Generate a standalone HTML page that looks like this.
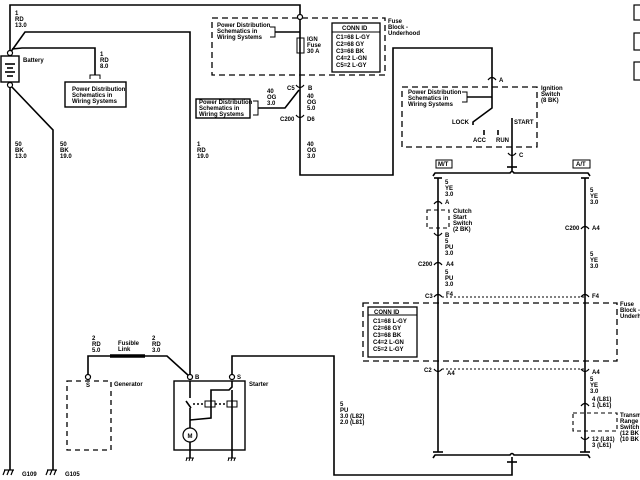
<!DOCTYPE html>
<html><head><style>
html,body{margin:0;padding:0;background:#fff}
svg{display:block}
text{font-family:"Liberation Sans",sans-serif;font-size:6px;font-weight:bold;fill:#000}
</style></head><body>
<svg width="640" height="480" viewBox="0 0 640 480" xmlns="http://www.w3.org/2000/svg">
<g fill="none" stroke="#000" stroke-width="1.6">
<!-- top wire -->
<polyline points="10,53 10,5 300,5 300,175 393,175 393,48 492,48 492,80"/>
<!-- battery -->
<rect x="1" y="56" width="18" height="26" stroke-width="1.4"/>
<line x1="5" y1="64" x2="15" y2="64"/><line x1="7" y1="68" x2="13" y2="68"/><line x1="5" y1="72" x2="15" y2="72"/><line x1="7" y1="76" x2="13" y2="76"/>
<polyline points="10,53 25,32 190,32 190,377"/>
<polyline points="12,49 22,48 95,48 95,75"/>
<polyline points="90,79 90,75 100,75 100,79" stroke-width="1"/>
<rect x="65" y="82" width="61" height="25" stroke-width="1.4"/>
<line x1="10" y1="85" x2="10" y2="470"/>
<polyline points="10,85 53,130 53,470"/>
<!-- fuse block top -->
<rect x="212" y="18" width="173" height="57" stroke-dasharray="6,4" stroke-width="1.3"/>
<rect x="297" y="38" width="7" height="15" stroke-width="1"/>
<rect x="332" y="23" width="48" height="49" stroke-width="1.3"/>
<line x1="332" y1="32" x2="380" y2="32" stroke-width="1"/>
<polyline points="270,27 275,27 275,37 270,37" stroke-width="1"/>
<line x1="275" y1="32" x2="300" y2="32"/>
<!-- C5 / C200 -->
<path d="M296,85 q4,5 8,0 M296,115 q4,5 8,0" stroke-width="1.2"/>
<polyline points="299,90 285,108 258,108"/>
<polyline points="253,101 258,101 258,115 253,115" stroke-width="1"/>
<rect x="196" y="99" width="54" height="19" stroke-width="1.4"/>
<!-- ignition switch -->
<path d="M488,80 q4,-5 8,0" stroke-width="1.2"/>
<rect x="402" y="87" width="135" height="60" stroke-dasharray="6,4" stroke-width="1.3"/>
<polyline points="462,92 467,92 467,102 462,102" stroke-width="1"/>
<line x1="467" y1="97" x2="492" y2="97"/>
<polyline points="492,80 492,108 473,122 473,125"/>
<line x1="484" y1="130" x2="484" y2="135"/><line x1="498" y1="130" x2="498" y2="135"/>
<line x1="512" y1="118" x2="512" y2="172"/>
<path d="M508,153 q4,5 8,0" stroke-width="1.2"/>
<line x1="507" y1="167" x2="517" y2="167"/>
<!-- bus -->
<path d="M433,176 l2,-3 L510,173 q2,-3 4,0 L588,173 l2,3"/>
<rect x="436" y="160" width="16" height="8" stroke-width="1"/>
<rect x="573" y="160" width="17" height="8" stroke-width="1"/>
<!-- left MT branch -->
<line x1="438" y1="178" x2="438" y2="452"/>
<line x1="434" y1="178" x2="442" y2="178"/>
<path d="M434,204 q4,-5 8,0 M434,233 q4,5 8,0 M434,265 q4,-5 8,0 M434,297 q4,-5 8,0 M434,369 q4,5 8,0" stroke-width="1.2"/>
<rect x="427" y="210" width="22" height="18" stroke-dasharray="4,3" stroke-width="1.1"/>
<line x1="433" y1="452" x2="443" y2="452"/>
<!-- right AT branch -->
<line x1="585" y1="178" x2="585" y2="452"/>
<line x1="581" y1="178" x2="589" y2="178"/>
<path d="M581,229 q4,-5 8,0 M581,297 q4,-5 8,0 M581,369 q4,5 8,0 M581,406 q4,-5 8,0 M581,437 q4,5 8,0" stroke-width="1.2"/>
<rect x="573" y="413" width="44" height="18" stroke-dasharray="4,3" stroke-width="1.1"/>
<line x1="580" y1="452" x2="590" y2="452"/>
<!-- fuse block lower -->
<line x1="442" y1="297" x2="585" y2="297" stroke-dasharray="2,2" stroke-width="1"/>
<line x1="442" y1="369" x2="585" y2="369" stroke-dasharray="2,2" stroke-width="1"/>
<rect x="363" y="303" width="254" height="58" stroke-dasharray="6,4" stroke-width="1.3"/>
<rect x="368" y="307" width="49" height="50" stroke-width="1.3"/>
<line x1="368" y1="315" x2="417" y2="315" stroke-width="1"/>
<!-- bottom bus -->
<path d="M433,458 l2,-3 L510,455 q2,-3 4,0 L588,455 l2,3"/>
<line x1="507" y1="462" x2="517" y2="462"/>
<polyline points="512,457 512,475 334,475 334,356 232,356 232,377"/>
<!-- generator -->
<rect x="67" y="381" width="44" height="69" stroke-dasharray="5,4" stroke-width="1.3"/>
<polyline points="88,377 88,356 110,356"/>
<line x1="110" y1="356" x2="145" y2="356" stroke-width="3.5"/>
<polyline points="145,356 167,356 189,376"/>
<!-- starter -->
<rect x="174" y="381" width="71" height="69" stroke-width="1.4"/>
<line x1="190" y1="381" x2="190" y2="398"/>
<line x1="186" y1="401" x2="191" y2="408"/>
<line x1="193" y1="404" x2="205" y2="404" stroke-dasharray="2,2"/>
<rect x="205" y="401" width="10" height="6" stroke-width="1"/>
<line x1="215" y1="404" x2="227" y2="404" stroke-dasharray="2,2"/>
<rect x="227" y="401" width="10" height="6" stroke-width="1"/>
<polyline points="232,381 232,387 229,390 211,390 211,418 190,420"/>
<line x1="232" y1="390" x2="232" y2="458"/>
<line x1="190" y1="408" x2="190" y2="428"/>
<circle cx="190" cy="435" r="7" stroke-width="1.2"/>
<line x1="190" y1="442" x2="190" y2="458"/>
<!-- grounds -->
<path d="M186,458 h8 M187,458 l-1,3 M190,458 l-1,3 M193,458 l-1,3 M228,458 h8 M229,458 l-1,3 M232,458 l-1,3 M235,458 l-1,3" stroke-width="1"/>
<path d="M4,470 h10 M5,470 l-2,5 M9,470 l-2,5 M13,470 l-2,5 M47,470 h10 M48,470 l-2,5 M52,470 l-2,5 M56,470 l-2,5" stroke-width="1.2"/>
<!-- right edge boxes -->
<rect x="634" y="5" width="10" height="15" stroke-width="1.2"/>
<rect x="634" y="33" width="10" height="17" stroke-width="1.2"/>
<rect x="634" y="62" width="10" height="18" stroke-width="1.2"/>
</g>
<g fill="#fff" stroke="#000" stroke-width="1.2">
<circle cx="10" cy="53" r="2.5"/><circle cx="10" cy="85" r="2.5"/>
<circle cx="300" cy="17" r="2.5"/>
<circle cx="88" cy="377" r="2.5"/><circle cx="190" cy="377" r="2.5"/><circle cx="232" cy="377" r="2.5"/>
</g>
<text x="190" y="438" text-anchor="middle" style="font-size:6px">M</text>
<text x="438" y="166" style="font-size:6px">M/T</text>
<text x="576" y="166" style="font-size:6px">A/T</text>
<g>
<text x="15" y="15">1</text><text x="15" y="21">RD</text><text x="15" y="27">13.0</text>
<text x="23" y="62">Battery</text>
<text x="100" y="56">1</text><text x="100" y="62">RD</text><text x="100" y="68">8.0</text>
<text x="72" y="91">Power Distribution</text><text x="72" y="97">Schematics in</text><text x="72" y="103">Wiring Systems</text>
<text x="15" y="146">50</text><text x="15" y="152">BK</text><text x="15" y="158">13.0</text>
<text x="60" y="146">50</text><text x="60" y="152">BK</text><text x="60" y="158">19.0</text>
<text x="197" y="146">1</text><text x="197" y="152">RD</text><text x="197" y="158">19.0</text>
<text x="217" y="27">Power Distribution</text><text x="217" y="33">Schematics in</text><text x="217" y="39">Wiring Systems</text>
<text x="307" y="41">IGN</text><text x="307" y="47">Fuse</text><text x="307" y="53">30 A</text>
<text x="342" y="30">CONN ID</text>
<text x="336" y="39">C1=68 L-GY</text><text x="336" y="46">C2=68 GY</text><text x="336" y="53">C3=68 BK</text><text x="336" y="60">C4=2 L-GN</text><text x="336" y="67">C5=2 L-GY</text>
<text x="388" y="23">Fuse</text><text x="388" y="29">Block -</text><text x="388" y="35">Underhood</text>
<text x="287" y="90">C5</text><text x="308" y="90">B</text>
<text x="267" y="93">40</text><text x="267" y="99">OG</text><text x="267" y="105">3.0</text>
<text x="307" y="98">40</text><text x="307" y="104">OG</text><text x="307" y="110">5.0</text>
<text x="280" y="121">C200</text><text x="307" y="121">D6</text>
<text x="307" y="146">40</text><text x="307" y="152">OG</text><text x="307" y="158">3.0</text>
<text x="199" y="104">Power Distribution</text><text x="199" y="110">Schematics in</text><text x="199" y="116">Wiring Systems</text>
<text x="499" y="82">A</text>
<text x="408" y="94">Power Distribution</text><text x="408" y="100">Schematics in</text><text x="408" y="106">Wiring Systems</text>
<text x="452" y="124">LOCK</text><text x="514" y="124">START</text>
<text x="473" y="142">ACC</text><text x="496" y="142">RUN</text>
<text x="541" y="90">Ignition</text><text x="541" y="96">Switch</text><text x="541" y="102">(8 BK)</text>
<text x="519" y="157">C</text>
<text x="445" y="184">5</text><text x="445" y="190">YE</text><text x="445" y="196">3.0</text>
<text x="445" y="204">A</text>
<text x="453" y="213">Clutch</text><text x="453" y="219">Start</text><text x="453" y="225">Switch</text><text x="453" y="231">(2 BK)</text>
<text x="445" y="237">B</text>
<text x="445" y="243">5</text><text x="445" y="249">PU</text><text x="445" y="255">3.0</text>
<text x="418" y="266">C200</text><text x="446" y="266">A4</text>
<text x="445" y="274">5</text><text x="445" y="280">PU</text><text x="445" y="286">3.0</text>
<text x="425" y="298">C3</text><text x="446" y="296">F4</text>
<text x="590" y="192">5</text><text x="590" y="198">YE</text><text x="590" y="204">3.0</text>
<text x="565" y="230">C200</text><text x="592" y="230">A4</text>
<text x="590" y="256">5</text><text x="590" y="262">YE</text><text x="590" y="268">3.0</text>
<text x="592" y="298">F4</text>
<text x="620" y="306">Fuse</text><text x="620" y="312">Block -</text><text x="620" y="318">Underh</text>
<text x="374" y="314">CONN ID</text>
<text x="373" y="323">C1=68 L-GY</text><text x="373" y="330">C2=68 GY</text><text x="373" y="337">C3=68 BK</text><text x="373" y="344">C4=2 L-GN</text><text x="373" y="351">C5=2 L-GY</text>
<text x="424" y="372">C2</text><text x="447" y="375">A4</text>
<text x="592" y="374">A4</text>
<text x="590" y="381">5</text><text x="590" y="387">YE</text><text x="590" y="393">3.0</text>
<text x="592" y="401">4 (L81)</text><text x="592" y="407">1 (L61)</text>
<text x="620" y="417">Transm</text><text x="620" y="423">Range</text><text x="620" y="429">Switch</text><text x="620" y="435">(12 BK</text><text x="620" y="441">(10 BK</text>
<text x="592" y="441">12 (L81)</text><text x="592" y="447">3 (L61)</text>
<text x="340" y="406">5</text><text x="340" y="412">PU</text><text x="340" y="418">3.0 (L82)</text><text x="340" y="424">2.0 (L81)</text>
<text x="92" y="340">2</text><text x="92" y="346">RD</text><text x="92" y="352">5.0</text>
<text x="118" y="345">Fusible</text><text x="118" y="351">Link</text>
<text x="152" y="340">2</text><text x="152" y="346">RD</text><text x="152" y="352">3.0</text>
<text x="86" y="387">S</text><text x="114" y="386">Generator</text>
<text x="195" y="379">B</text><text x="237" y="379">S</text><text x="249" y="386">Starter</text>
<text x="22" y="476">G109</text><text x="65" y="476">G105</text>
</g>
</svg>
</body></html>
